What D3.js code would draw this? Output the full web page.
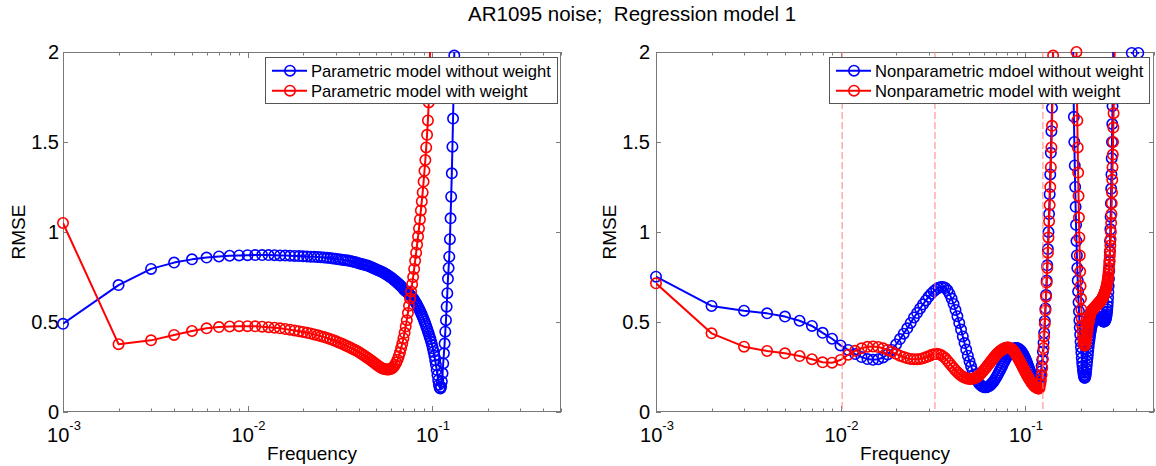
<!DOCTYPE html>
<html><head><meta charset="utf-8">
<script src="https://cdn.jsdelivr.net/npm/d3@7"></script>
<style>body{margin:0;background:#fff}svg{display:block}text{font-family:"Liberation Sans",Arial,sans-serif;fill:#000}</style>
</head><body><svg id="c" width="1156" height="466"></svg>
<script>
const _ = null; // value above the top of the axes (not readable)
const titleText = "AR1095 noise;  Regression model 1";
const freqStart = 0.001, freqStep = 0.001;
const yTicks = [0, 0.5, 1, 1.5, 2];
const yTickLabels = ["0", "0.5", "1", "1.5", "2"];
const xMajorExps = [-3, -2, -1];
const xLabel = "Frequency", yLabel = "RMSE";
const leftLegend = ["Parametric model without weight", "Parametric model with weight"];
const rightLegend = ["Nonparametric mdoel without weight", "Nonparametric model with weight"];
const dashedFreqs = [0.0102, 0.0325, 0.125];

const leftBlue = [0.49,0.705,0.795,0.83,0.848,0.858,0.864,0.868,0.87,0.871,
0.872,0.872,0.872,0.871,0.87,0.869,0.868,0.867,0.866,0.865,
0.864,0.863,0.862,0.861,0.86,0.858,0.857,0.855,0.853,0.851,
0.849,0.847,0.845,0.843,0.841,0.839,0.836,0.833,0.83,0.827,
0.824,0.821,0.818,0.815,0.812,0.808,0.804,0.8,0.796,0.792,
0.788,0.784,0.78,0.776,0.772,0.767,0.762,0.757,0.752,0.747,
0.741,0.735,0.729,0.723,0.717,0.711,0.705,0.698,0.691,0.684,
0.677,0.672,0.667,0.662,0.656,0.65,0.644,0.637,0.63,0.622,
0.613,0.604,0.594,0.584,0.574,0.563,0.552,0.54,0.528,0.516,
0.503,0.49,0.477,0.463,0.449,0.435,0.42,0.405,0.389,0.372,
0.354,0.334,0.312,0.288,0.262,0.234,0.205,0.177,0.152,0.135,
0.13,0.14,0.17,0.215,0.27,0.326,0.38,0.446,0.51,0.585,
0.66,0.74,0.8,0.863,0.96,1.076,1.196,1.326,1.474,1.63,
1.8,1.98,2.3];

const leftRed = [1.05,0.377,0.398,0.428,0.45,0.465,0.472,0.475,0.477,0.477,
0.476,0.474,0.471,0.468,0.465,0.461,0.457,0.453,0.449,0.445,
0.44,0.436,0.431,0.426,0.421,0.416,0.411,0.406,0.4,0.394,
0.388,0.382,0.376,0.37,0.364,0.358,0.352,0.346,0.34,0.334,
0.327,0.32,0.313,0.306,0.299,0.292,0.285,0.278,0.271,0.264,
0.257,0.251,0.246,0.242,0.239,0.237,0.236,0.236,0.237,0.24,
0.245,0.252,0.262,0.275,0.29,0.31,0.33,0.355,0.38,0.41,
0.44,0.475,0.51,0.55,0.59,0.63,0.67,0.71,0.75,0.795,
0.84,0.885,0.93,0.975,1.02,1.07,1.12,1.17,1.22,1.28,
1.34,1.4,1.47,1.54,1.62,1.72,1.88,2.1];

const rightBlue = [0.752,0.589,0.563,0.548,0.53,0.507,0.478,0.44,0.407,0.37,
0.345,0.322,0.305,0.294,0.29,0.293,0.303,0.32,0.345,0.375,
0.405,0.435,0.465,0.495,0.525,0.55,0.575,0.598,0.62,0.64,
0.657,0.671,0.682,0.69,0.695,0.695,0.689,0.676,0.656,0.63,
0.6,0.567,0.532,0.495,0.458,0.42,0.383,0.347,0.313,0.282,
0.254,0.229,0.208,0.19,0.175,0.163,0.153,0.146,0.141,0.138,
0.137,0.138,0.141,0.145,0.15,0.157,0.165,0.174,0.184,0.195,
0.206,0.218,0.23,0.242,0.254,0.266,0.278,0.289,0.3,0.31,
0.319,0.327,0.334,0.34,0.345,0.349,0.352,0.354,0.355,0.355,
0.354,0.352,0.349,0.345,0.34,0.334,0.327,0.319,0.31,0.3,
0.29,0.279,0.268,0.256,0.244,0.232,0.22,0.208,0.197,0.187,
0.18,0.172,0.166,0.162,0.16,0.16,0.162,0.166,0.172,0.184,
0.2,0.225,0.255,0.29,0.335,0.385,0.44,0.505,0.575,0.65,
0.73,0.815,0.905,1.0,1.1,1.21,1.32,1.44,1.56,1.69,
1.85,2.05,_,_,_,_,_,_,_,_,
_,_,_,_,_,_,_,_,_,_,
_,_,_,_,_,_,_,_,_,_,
_,_,_,_,_,_,_,_,_,_,
_,2.2,1.85,1.64,1.5,1.37,1.25,1.14,1.04,0.95,
0.87,0.8,0.73,0.67,0.61,0.56,0.51,0.47,0.43,0.39,
0.36,0.33,0.3,0.275,0.255,0.235,0.22,0.205,0.195,0.19,
0.19,0.195,0.205,0.22,0.24,0.26,0.28,0.3,0.32,0.34,
0.36,0.38,0.395,0.41,0.425,0.44,0.452,0.463,0.473,0.482,
0.49,0.497,0.503,0.508,0.513,0.517,0.52,0.523,0.526,0.528,
0.53,0.531,0.532,0.533,0.533,0.533,0.532,0.531,0.53,0.529,
0.528,0.527,0.526,0.524,0.522,0.52,0.518,0.516,0.514,0.512,
0.51,0.508,0.506,0.505,0.504,0.503,0.503,0.503,0.504,0.505,
0.507,0.51,0.514,0.519,0.525,0.533,0.543,0.555,0.57,0.588,
0.61,0.636,0.666,0.7,0.74,0.785,0.835,0.89,0.95,1.015,
1.085,1.16,1.24,1.32,1.41,1.5,1.6,1.7,1.81,1.93,
2.06,_,_,_,_,_,_,_,_,_,
_,_,_,_,_,_,_,_,_,_,
_,_,_,_,_,_,_,_,_,_,
_,_,_,_,_,_,_,_,_,_,
_,_,_,_,_,_,_,_,_,_,
_,_,_,_,_,_,_,_,_,_,
_,_,_,_,_,_,_,_,_,_,
_,_,_,_,_,_,_,2.03,1.995,2.03,
_,_,_,_,_,_,_,_,_,_,
_,_,_,_,_,_,_,_,_,_,
_,_,_,_,_,_,_,_,_,2.03,
1.995,2.03];

const rightRed = [0.715,0.437,0.363,0.339,0.326,0.311,0.293,0.276,0.274,0.289,
0.318,0.34,0.354,0.362,0.364,0.361,0.354,0.345,0.334,0.323,
0.313,0.305,0.299,0.295,0.293,0.293,0.295,0.299,0.304,0.31,
0.316,0.321,0.323,0.322,0.317,0.309,0.298,0.285,0.271,0.257,
0.244,0.232,0.221,0.211,0.203,0.196,0.191,0.187,0.185,0.184,
0.184,0.185,0.187,0.19,0.195,0.201,0.208,0.216,0.225,0.234,
0.243,0.252,0.261,0.27,0.279,0.288,0.296,0.304,0.312,0.319,
0.326,0.332,0.337,0.342,0.346,0.35,0.353,0.355,0.357,0.358,
0.358,0.357,0.355,0.352,0.348,0.343,0.337,0.33,0.322,0.313,
0.305,0.297,0.288,0.279,0.27,0.261,0.252,0.243,0.234,0.225,
0.217,0.209,0.201,0.193,0.186,0.179,0.172,0.166,0.16,0.155,
0.15,0.146,0.142,0.139,0.136,0.134,0.132,0.131,0.131,0.135,
0.155,0.175,0.205,0.245,0.295,0.355,0.42,0.49,0.565,0.64,
0.72,0.8,0.885,0.97,1.06,1.15,1.25,1.36,1.47,1.59,
1.78,1.98,2.2,_,_,_,_,_,_,_,
_,_,_,_,_,_,_,_,_,_,
_,_,_,_,_,_,_,_,_,_,
_,_,_,_,_,_,_,_,_,_,
_,_,_,_,_,_,_,_,2.2,2.0,
1.8,1.62,1.47,1.33,1.2,1.08,0.97,0.87,0.78,0.7,
0.63,0.57,0.52,0.48,0.45,0.42,0.4,0.385,0.375,0.37,
0.37,0.375,0.385,0.4,0.415,0.43,0.445,0.46,0.475,0.49,
0.5,0.51,0.52,0.53,0.538,0.545,0.55,0.555,0.56,0.563,
0.566,0.568,0.57,0.572,0.574,0.576,0.578,0.58,0.582,0.584,
0.586,0.588,0.59,0.592,0.594,0.596,0.598,0.6,0.602,0.604,
0.606,0.608,0.61,0.612,0.614,0.616,0.618,0.62,0.622,0.625,
0.628,0.631,0.634,0.637,0.64,0.644,0.648,0.652,0.657,0.662,
0.665,0.67,0.675,0.68,0.686,0.692,0.699,0.707,0.716,0.726,
0.737,0.75,0.765,0.782,0.8,0.82,0.843,0.868,0.895,0.925,
0.96,1.0,1.05,1.1,1.16,1.22,1.29,1.36,1.43,1.5,
1.58,1.66,1.74,1.83,1.92,2.02];

const BLUE = "#0000ff", RED = "#ff0000";
const svg = d3.select("#c");
const Y0 = 52, Y1 = 412;
const FS_TICK = 20, FS_LAB = 19, FS_LEG = 16.6;

svg.append("text").attr("x", 468).attr("y", 21).attr("font-size", 20.5)
  .attr("xml:space", "preserve").style("white-space", "pre").text(titleText);

function panel(o) {
  const x = d3.scaleLog().domain([0.001, 0.5]).range([o.x0, o.x1]);
  const y = d3.scaleLinear().domain([0, 2]).range([Y1, Y0]);
  const g = svg.append("g");
  svg.append("clipPath").attr("id", o.id).append("rect")
    .attr("x", o.x0).attr("y", Y0).attr("width", o.x1 - o.x0).attr("height", Y1 - Y0);
  g.append("rect").attr("x", o.x0 + 0.5).attr("y", Y0 + 0.5).attr("width", o.x1 - o.x0 - 1).attr("height", Y1 - Y0 - 1)
    .attr("fill", "#fff").attr("stroke", "#7a7a7a").attr("stroke-width", 1);
  x.ticks().forEach(t => {
    const major = Math.abs(Math.log10(t) - Math.round(Math.log10(t))) < 1e-9;
    const len = major ? 6 : 3.5;
    const xx = Math.round(x(t)) + 0.5;
    g.append("line").attr("x1", xx).attr("x2", xx).attr("y1", Y1).attr("y2", Y1 - len).attr("stroke", "#7a7a7a");
    g.append("line").attr("x1", xx).attr("x2", xx).attr("y1", Y0).attr("y2", Y0 + len).attr("stroke", "#7a7a7a");
  });
  xMajorExps.forEach(e => {
    const t = g.append("text").attr("x", x(Math.pow(10, e)) + 1).attr("y", 442).attr("text-anchor", "middle").attr("font-size", FS_TICK);
    t.append("tspan").text("10");
    t.append("tspan").attr("dy", -12).attr("font-size", 13).text(String(e));
  });
  yTicks.forEach((v, i) => {
    const yy = Math.round(y(v)) + 0.5;
    g.append("line").attr("x1", o.x0).attr("x2", o.x0 + 5).attr("y1", yy).attr("y2", yy).attr("stroke", "#7a7a7a");
    g.append("line").attr("x1", o.x1).attr("x2", o.x1 - 5).attr("y1", yy).attr("y2", yy).attr("stroke", "#7a7a7a");
    g.append("text").attr("x", o.yLabX).attr("y", y(v) + 7.2).attr("text-anchor", "end").attr("font-size", FS_TICK).text(yTickLabels[i]);
  });
  g.append("text").attr("x", (o.x0 + o.x1) / 2).attr("y", 459.5).attr("text-anchor", "middle").attr("font-size", FS_LAB).text(xLabel);
  g.append("text").attr("transform", `translate(${o.rmseX},232) rotate(-90)`).attr("dy", "0.36em")
    .attr("text-anchor", "middle").attr("font-size", FS_LAB).text(yLabel);
  o.series.forEach(s => {
    const pts = s.values.map((v, i) => ({ f: freqStart + i * freqStep, v }));
    const line = d3.line().defined(d => d.v !== null).x(d => x(d.f)).y(d => y(d.v));
    g.append("path").attr("d", line(pts)).attr("clip-path", `url(#${o.id})`)
      .attr("fill", "none").attr("stroke", s.color).attr("stroke-width", 2).attr("stroke-linejoin", "round");
    g.append("g").selectAll("circle").data(pts.filter(d => d.v !== null && d.v >= 0 && d.v <= 2)).join("circle")
      .attr("cx", d => x(d.f)).attr("cy", d => y(d.v)).attr("r", 5.2)
      .attr("fill", "none").attr("stroke", s.color).attr("stroke-width", 1.6);
  });
  (o.dashed || []).forEach(f => {
    g.append("line").attr("x1", x(f)).attr("x2", x(f)).attr("y1", Y0).attr("y2", Y1)
      .attr("stroke", "#ff7f7f").attr("stroke-width", 1).attr("stroke-dasharray", "7,3");
  });
  const L = o.legend;
  g.append("rect").attr("x", L.x + 0.5).attr("y", 57.5).attr("width", L.w).attr("height", 46)
    .attr("fill", "#fff").attr("stroke", "#555").attr("stroke-width", 1);
  o.series.forEach((s, i) => {
    const ry = 70.7 + i * 20;
    g.append("line").attr("x1", L.x + 7).attr("x2", L.x + 42).attr("y1", ry).attr("y2", ry).attr("stroke", s.color).attr("stroke-width", 2);
    g.append("circle").attr("cx", L.x + 25).attr("cy", ry).attr("r", 5.2).attr("fill", "none").attr("stroke", s.color).attr("stroke-width", 1.6);
    g.append("text").attr("x", L.x + 46).attr("y", ry + 6).attr("font-size", FS_LEG).text(o.labels[i]);
  });
}

panel({ id: "clipL", x0: 63, x1: 561, yLabX: 59, rmseX: 18,
  series: [{ values: leftBlue, color: BLUE }, { values: leftRed, color: RED }],
  labels: leftLegend, legend: { x: 265, w: 292 } });
panel({ id: "clipR", x0: 656, x1: 1154, yLabX: 650, rmseX: 609,
  series: [{ values: rightBlue, color: BLUE }, { values: rightRed, color: RED }],
  labels: rightLegend, legend: { x: 829, w: 320 }, dashed: dashedFreqs });
</script></body></html>
